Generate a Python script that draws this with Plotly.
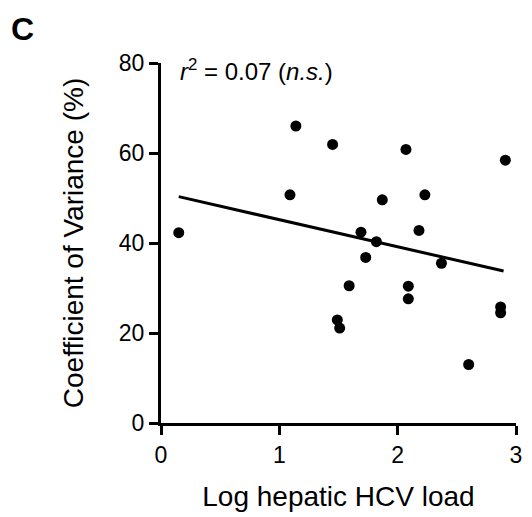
import numpy as np
import plotly.graph_objects as go

# Data
hcv_load = [0.15, 1.09, 1.14, 1.45, 1.49, 1.51, 1.59, 1.69, 1.73, 1.82, 1.87,
            2.07, 2.09, 2.09, 2.18, 2.23, 2.37, 2.60, 2.87, 2.87, 2.91]
cov_pct = [42.3, 50.7, 66.0, 61.9, 22.9, 21.1, 30.5, 42.4, 36.8, 40.3, 49.6,
           60.8, 30.4, 27.6, 42.8, 50.7, 35.5, 13.0, 25.8, 24.5, 58.4]
fit_intercept = 51.2
fit_slope = -6.02
x_ticks = [0, 1, 2, 3]
y_ticks = [0, 20, 40, 60, 80]

FONT = "Liberation Sans, Arial, sans-serif"

line_x = np.array([min(hcv_load), max(hcv_load) - 0.015])
line_y = fit_intercept + fit_slope * line_x

fig = go.Figure()
fig.add_trace(go.Scatter(x=line_x, y=line_y, mode="lines",
                         line=dict(color="black", width=3),
                         showlegend=False, hoverinfo="skip"))
fig.add_trace(go.Scatter(x=hcv_load, y=cov_pct, mode="markers",
                         marker=dict(color="black", size=11),
                         cliponaxis=False, showlegend=False))

fig.update_layout(
    width=532, height=517,
    margin=dict(l=161, r=10, t=63, b=94),
    plot_bgcolor="white", paper_bgcolor="white",
    font=dict(family=FONT, color="black", size=23),
    xaxis=dict(range=[0, 3], tickvals=x_ticks, ticks="outside", ticklen=9,
               tickwidth=3, tickcolor="black", showline=True, linewidth=3,
               linecolor="black", showgrid=False, zeroline=False,
               tickfont=dict(size=23),
               title=dict(text="Log hepatic HCV load", font=dict(size=28), standoff=20)),
    yaxis=dict(range=[0, 80], tickvals=y_ticks, ticks="outside", ticklen=9,
               tickwidth=3, tickcolor="black", showline=True, linewidth=3,
               linecolor="black", showgrid=False, zeroline=False,
               tickfont=dict(size=23), ticklabelstandoff=0,
               title=dict(text="Coefficient of Variance (%)", font=dict(size=28), standoff=28)),
    annotations=[
        dict(text="<i>r</i><sup>2</sup> = 0.07 (<i>n.s.</i>)", xref="paper", yref="paper",
             x=0.047, y=(423 - 70) / 360, xanchor="left", yanchor="middle",
             showarrow=False, font=dict(size=24)),
        dict(text="<b>C</b>", xref="paper", yref="paper",
             x=(6 - 161) / 361, y=(423 - 29) / 360, xanchor="left", yanchor="middle",
             showarrow=False, font=dict(size=32)),
    ],
)

fig.write_html("out.html")
